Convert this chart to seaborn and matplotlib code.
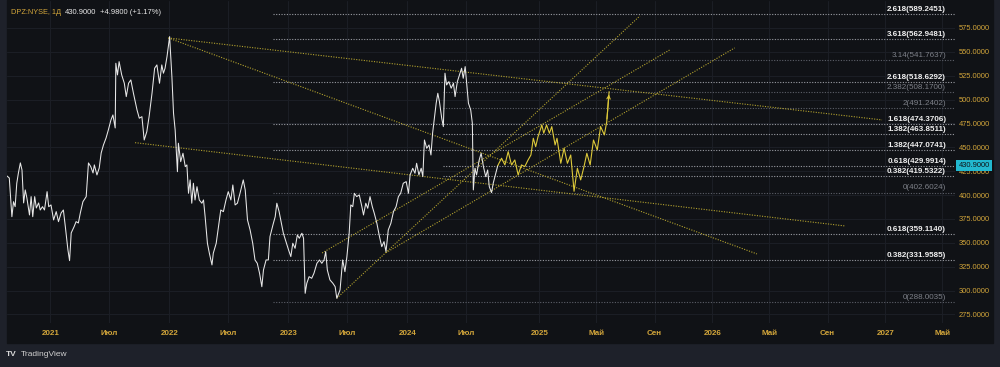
import matplotlib
matplotlib.use("Agg")
import matplotlib.pyplot as plt
import matplotlib.dates as mdates
import matplotlib.transforms as mtransforms
from matplotlib.patches import Rectangle
import seaborn as sns
import numpy as np
import pandas as pd

# DPZ daily closes
price_dates = [
    "2020-08-21", "2020-08-28", "2020-09-05", "2020-09-10", "2020-09-15", "2020-09-20", "2020-09-25",
    "2020-10-01", "2020-10-06", "2020-10-11", "2020-10-16", "2020-10-21", "2020-10-29", "2020-11-03",
    "2020-11-08", "2020-11-14", "2020-11-19", "2020-11-26", "2020-12-01", "2020-12-08", "2020-12-14",
    "2020-12-22", "2020-12-27", "2021-01-03", "2021-01-11", "2021-01-19", "2021-01-26", "2021-02-03",
    "2021-02-10", "2021-02-16", "2021-02-24", "2021-03-01", "2021-03-06", "2021-03-15", "2021-03-21",
    "2021-03-28", "2021-04-03", "2021-04-11", "2021-04-21", "2021-04-28", "2021-05-05", "2021-05-12",
    "2021-05-16", "2021-05-24", "2021-05-31", "2021-06-06", "2021-06-13", "2021-06-21", "2021-06-28",
    "2021-07-06", "2021-07-12", "2021-07-19", "2021-07-21", "2021-07-26", "2021-07-31", "2021-08-08",
    "2021-08-16", "2021-08-22", "2021-08-29", "2021-09-05", "2021-09-13", "2021-09-24", "2021-10-01",
    "2021-10-09", "2021-10-16", "2021-10-24", "2021-10-31", "2021-11-09", "2021-11-17", "2021-11-24",
    "2021-12-02", "2021-12-09", "2021-12-14", "2021-12-19", "2021-12-25", "2022-01-02", "2022-01-09",
    "2022-01-14", "2022-01-19", "2022-01-26", "2022-01-29", "2022-02-05", "2022-02-12", "2022-02-19",
    "2022-02-24", "2022-03-01", "2022-03-06", "2022-03-11", "2022-03-16", "2022-03-21", "2022-03-27",
    "2022-04-03", "2022-04-11", "2022-04-16", "2022-04-21", "2022-04-28", "2022-05-04", "2022-05-12",
    "2022-05-16", "2022-05-25", "2022-06-01", "2022-06-08", "2022-06-16", "2022-06-24", "2022-07-01",
    "2022-07-09", "2022-07-15", "2022-07-22", "2022-07-29", "2022-08-06", "2022-08-12", "2022-08-16",
    "2022-08-22", "2022-08-29", "2022-09-06", "2022-09-14", "2022-09-21", "2022-09-28", "2022-10-05",
    "2022-10-12", "2022-10-17", "2022-10-25", "2022-11-01", "2022-11-06", "2022-11-15", "2022-11-22",
    "2022-11-27", "2022-12-04", "2022-12-09", "2022-12-17", "2022-12-25", "2023-01-02", "2023-01-09",
    "2023-01-15", "2023-01-22", "2023-01-29", "2023-02-04", "2023-02-12", "2023-02-17", "2023-02-22",
    "2023-02-27", "2023-03-06", "2023-03-14", "2023-03-21", "2023-03-30", "2023-04-07", "2023-04-14",
    "2023-04-21", "2023-04-26", "2023-05-01", "2023-05-09", "2023-05-18", "2023-05-25", "2023-05-30",
    "2023-06-09", "2023-06-17", "2023-06-24", "2023-06-30", "2023-07-07", "2023-07-12", "2023-07-18",
    "2023-07-23", "2023-07-30", "2023-08-07", "2023-08-15", "2023-08-20", "2023-08-27", "2023-09-02",
    "2023-09-09", "2023-09-16", "2023-09-22", "2023-09-30", "2023-10-08", "2023-10-15", "2023-10-22",
    "2023-10-28", "2023-11-04", "2023-11-12", "2023-11-20", "2023-11-28", "2023-12-05", "2023-12-12",
    "2023-12-20", "2023-12-29", "2024-01-05", "2024-01-10", "2024-01-18", "2024-01-25", "2024-01-30",
    "2024-02-06", "2024-02-13", "2024-02-18", "2024-02-23", "2024-03-01", "2024-03-08", "2024-03-14",
    "2024-03-19", "2024-03-24", "2024-03-30", "2024-04-04", "2024-04-09", "2024-04-16", "2024-04-21",
    "2024-04-26", "2024-05-01", "2024-05-08", "2024-05-15", "2024-05-22", "2024-05-27", "2024-06-03",
    "2024-06-11", "2024-06-16", "2024-06-21", "2024-06-27", "2024-07-02", "2024-07-07", "2024-07-14",
    "2024-07-19", "2024-07-22", "2024-07-27", "2024-08-01", "2024-08-09", "2024-08-15", "2024-08-22",
    "2024-08-29", "2024-09-04", "2024-09-09", "2024-09-16", "2024-09-21", "2024-09-29", "2024-10-05",
]
price_close = [
    420.0, 417.9, 377.4, 393.1, 387.9, 412.4, 423.2,
    433.7, 426.3, 391.8, 405.4, 397.0, 379.2, 398.4,
    377.4, 398.4, 386.5, 391.8, 384.4, 387.9, 384.4,
    403.6, 387.9, 389.7, 374.0, 382.7, 372.2, 381.3,
    384.4, 367.0, 342.6, 331.4, 360.4, 367.0, 372.2,
    370.8, 381.3, 393.1, 398.4, 433.7, 429.8, 423.2,
    431.6, 421.1, 428.4, 444.1, 452.5, 459.8, 468.2,
    478.7, 483.9, 470.3, 538.0, 525.8, 539.7, 525.8,
    517.1, 503.1, 517.1, 520.6, 506.6, 489.1, 480.5,
    482.1, 457.7, 466.4, 482.1, 506.6, 532.8, 536.3,
    517.1, 536.3, 527.6, 532.8, 545.0, 565.9, 524.0,
    485.7, 468.2, 424.5, 454.3, 435.0, 443.8, 429.8,
    431.6, 401.9, 415.9, 391.5, 412.4, 394.9, 408.8,
    394.9, 391.5, 394.9, 377.4, 349.6, 339.1, 326.9,
    339.1, 349.6, 367.0, 384.4, 382.7, 394.9, 403.6,
    394.9, 410.6, 389.7, 391.5, 401.9, 410.6, 415.9,
    405.4, 374.0, 363.5, 349.6, 332.1, 328.6, 318.2,
    304.1, 321.6, 332.1, 332.1, 356.5, 368.7, 377.4,
    391.5, 382.7, 374.0, 360.1, 351.3, 342.6, 335.6,
    349.6, 344.3, 358.3, 354.8, 360.1, 354.8, 297.2,
    307.7, 314.6, 312.9, 318.2, 328.6, 332.1, 328.6,
    332.1, 340.8, 321.6, 311.2, 307.7, 304.1, 292.0,
    300.7, 332.1, 319.8, 335.6, 360.1, 389.7, 387.9,
    401.9, 398.4, 400.2, 387.9, 379.2, 391.5, 386.2,
    398.4, 387.9, 381.0, 370.5, 356.5, 346.0, 351.3,
    340.8, 363.5, 370.5, 382.7, 387.9, 398.4, 401.9,
    412.4, 414.1, 401.9, 421.1, 428.1, 422.9, 433.3,
    421.1, 428.1, 419.3, 457.7, 449.0, 452.5, 442.0,
    464.8, 478.7, 496.2, 506.6, 497.8, 480.5, 471.7,
    527.6, 515.3, 518.8, 511.9, 517.1, 503.1, 518.8,
    527.6, 532.8, 522.3, 534.5, 515.3, 496.2, 489.1,
    475.2, 405.4, 428.1, 421.1, 436.8, 443.8, 429.8,
    419.3, 426.3, 408.8, 402.6, 412.4, 422.9, 430.9,
]

# projected path (yellow), starting from the last close
proj_dates = [
    "2024-10-05", "2024-10-13", "2024-10-20", "2024-10-27", "2024-11-03", "2024-11-10", "2024-11-17",
    "2024-11-24", "2024-12-01", "2024-12-08", "2024-12-14", "2024-12-19", "2024-12-24", "2024-12-29",
    "2025-01-06", "2025-01-10", "2025-01-16", "2025-01-22", "2025-01-27", "2025-02-03", "2025-02-07",
    "2025-02-15", "2025-02-22", "2025-03-01", "2025-03-08", "2025-03-15", "2025-03-22", "2025-03-29",
    "2025-04-05", "2025-04-11", "2025-04-18", "2025-04-25", "2025-05-03", "2025-05-10", "2025-05-18",
    "2025-05-23", "2025-05-28",
]
proj_close = [
    430.9, 438.6, 431.6, 445.5, 431.6, 436.8, 421.1,
    431.6, 429.8, 436.8, 442.0, 459.5, 450.7, 461.2,
    473.4, 464.8, 473.4, 464.8, 471.7, 452.5, 459.5,
    433.3, 449.0, 433.3, 442.0, 404.0, 428.1, 415.9,
    429.8, 443.8, 431.6, 457.7, 447.3, 471.7, 463.0,
    476.9, 508.3,
]

# dotted trend lines
trend_start_dates = ["2021-12-29", "2021-12-29", "2021-09-18", "2023-04-15", "2023-05-30", "2023-10-28"]
trend_start_prices = [564.5, 564.5, 454.9, 339.4, 292.0, 339.7]
trend_end_dates = ["2026-12-25", "2026-04-05", "2026-10-08", "2025-10-03", "2025-08-01", "2026-02-17"]
trend_end_prices = [478.7, 338.4, 367.7, 552.0, 587.6, 554.1]

# fibonacci levels
fib_prices = [589.2451, 562.9481, 541.7637, 518.6292, 508.1700, 491.2402, 474.3706, 463.8511,
              447.0741, 429.9914, 419.5322, 402.6024, 359.1140, 331.9585, 288.0035]
fib_ratios = ["2.618", "3.618", "3.14", "2.618", "2.382", "2", "1.618", "1.382",
              "1.382", "0.618", "0.382", "0", "0.618", "0.382", "0"]
fib_from = ["2022-11-16", "2022-11-16", "2024-04-20", "2022-11-16", "2024-04-20", "2024-04-20",
            "2022-11-16", "2024-04-20", "2022-11-16", "2024-04-20", "2024-04-20", "2022-11-16",
            "2022-11-16", "2022-11-16", "2022-11-16"]
muted_ratios_at = [541.7637, 508.1700, 491.2402, 402.6024, 288.0035]

tick_dates = ["2021-01-01", "2021-07-01", "2022-01-01", "2022-07-01", "2023-01-01", "2023-07-01",
              "2024-01-01", "2024-07-01", "2025-01-01", "2025-05-01", "2025-09-01", "2026-01-01",
              "2026-05-01", "2026-09-01", "2027-01-01", "2027-05-01"]
tick_labels = ["2021", "Июл", "2022", "Июл", "2023", "Июл", "2024", "Июл", "2025", "Май", "Сен",
               "2026", "Май", "Сен", "2027", "Май"]
price_ticks = [275, 300, 325, 350, 375, 400, 425, 450, 475, 500, 525, 550, 575]
last_price = 430.9

BG = "#101216"
FRAME = "#1e212a"
GRID = "#1b1e25"
GOLD = "#d2a53a"
YELLOW = "#ddc93a"
TREND = "#b3a22e"

sns.set_theme(style="dark", rc={"axes.facecolor": BG, "figure.facecolor": FRAME,
                                "axes.edgecolor": BG, "grid.color": GRID})
plt.rcParams["font.family"] = ["Liberation Sans", "DejaVu Sans"]

fig = plt.figure(figsize=(10, 3.67), dpi=100)
fig.patches.append(Rectangle((0.007, 1 - 343 / 367), 0.986, 343 / 367,
                             transform=fig.transFigure, color=BG, zorder=-10))
ax = fig.add_axes([0.007, 1 - 323 / 367, 0.948, 322 / 367])
ax.set_zorder(1)
ax.set_facecolor(BG)

hist = pd.DataFrame({"date": pd.to_datetime(price_dates), "close": price_close})
proj = pd.DataFrame({"date": pd.to_datetime(proj_dates), "close": proj_close})

# trading-day spacing before the last bar, calendar spacing after it
cut = mdates.date2num(pd.Timestamp(price_dates[-1]))
stretch = 0.474 / 0.326


def fwd(x):
    x = np.asarray(x, dtype=float)
    return np.where(x <= cut, x - cut, (x - cut) * stretch)


def inv(y):
    y = np.asarray(y, dtype=float)
    return np.where(y <= 0, y + cut, y / stretch + cut)


sns.lineplot(data=hist, x="date", y="close", ax=ax, color="#e8e8e8", linewidth=0.75,
             estimator=None, sort=False, zorder=4)
sns.lineplot(data=proj, x="date", y="close", ax=ax, color=YELLOW, linewidth=0.8,
             estimator=None, sort=False, zorder=4)
ax.set_xscale("function", functions=(fwd, inv))

x_right = mdates.date2num(pd.Timestamp("2027-05-28"))
ax.set_xlim(mdates.date2num(pd.Timestamp("2020-08-21")), x_right)
ax.set_ylim(266.1, 603.2)

pd_num = lambda s: mdates.date2num(pd.Timestamp(s))

ax.annotate("", xy=(pd_num(proj_dates[-1]), proj_close[-1]),
            xytext=(pd_num(proj_dates[-2]), proj_close[-2]),
            arrowprops=dict(arrowstyle="->", color=YELLOW, lw=0.8, mutation_scale=6), zorder=5)

for d0, p0, d1, p1 in zip(trend_start_dates, trend_start_prices, trend_end_dates, trend_end_prices):
    ax.plot([pd_num(d0), pd_num(d1)], [p0, p1], color=TREND, lw=0.8,
            linestyle=(0, (1, 1.3)), zorder=3)

lbl_tr = mtransforms.blended_transform_factory(ax.transAxes, ax.transData)
for price, ratio, start in zip(fib_prices, fib_ratios, fib_from):
    muted = price in muted_ratios_at
    lc = "#5d6069" if muted else "#9a9ca3"
    ax.hlines(price, pd_num(start), x_right, colors=lc, lw=0.8,
              linestyles=[(0, (1, 1.4))], zorder=2)
    ax.text(0.9905, price + 1.2, f"{ratio}({price:.4f})", transform=lbl_tr,
            ha="right", va="bottom", fontsize=5.8, color="#7d8088" if muted else "#f0f0f0",
            fontweight="normal" if muted else "bold", zorder=6)

ax.set_xticks([pd_num(d) for d in tick_dates])
ax.set_xticklabels(tick_labels)
ax.set_yticks(price_ticks)
ax.set_yticklabels([f"{v:.4f}" for v in price_ticks])
ax.yaxis.tick_right()
ax.tick_params(axis="x", length=0, pad=5, labelsize=5.8, colors=GOLD, labelcolor=GOLD)
ax.tick_params(axis="y", length=0, pad=2.5, labelsize=5.4, colors=GOLD, labelcolor=GOLD)
for lab in ax.get_xticklabels():
    lab.set_fontweight("bold")
ax.grid(True, color=GRID, lw=0.8)
ax.set_xlabel("")
ax.set_ylabel("")
for s in ax.spines.values():
    s.set_visible(False)

# last price marker on the price scale
ax.text(1.0035, last_price, f"{last_price:.4f}", transform=lbl_tr, ha="left", va="center",
        fontsize=5.4, color="#101216",
        bbox=dict(boxstyle="square,pad=0.3", fc="#22b8cf", ec="none"), zorder=7, clip_on=False)

# header and footer
fig.text(0.011, 1 - 13 / 367, "DPZ:NYSE, 1Д", color=GOLD, fontsize=5.3, va="center", zorder=5)
fig.text(0.065, 1 - 13 / 367, "430.9000", color="#e8e8e8", fontsize=5.5, va="center", zorder=5)
fig.text(0.100, 1 - 13 / 367, "+4.9800 (+1.17%)", color="#e8e8e8", fontsize=5.5, va="center", zorder=5)
fig.text(0.006, 1 - 355 / 367, "TV", color="#d8d8d8", fontsize=6, fontweight="bold", va="center")
fig.text(0.021, 1 - 355 / 367, "TradingView", color="#d0d0d0", fontsize=6, va="center")

fig.savefig("out.png", dpi=100, facecolor=FRAME)
